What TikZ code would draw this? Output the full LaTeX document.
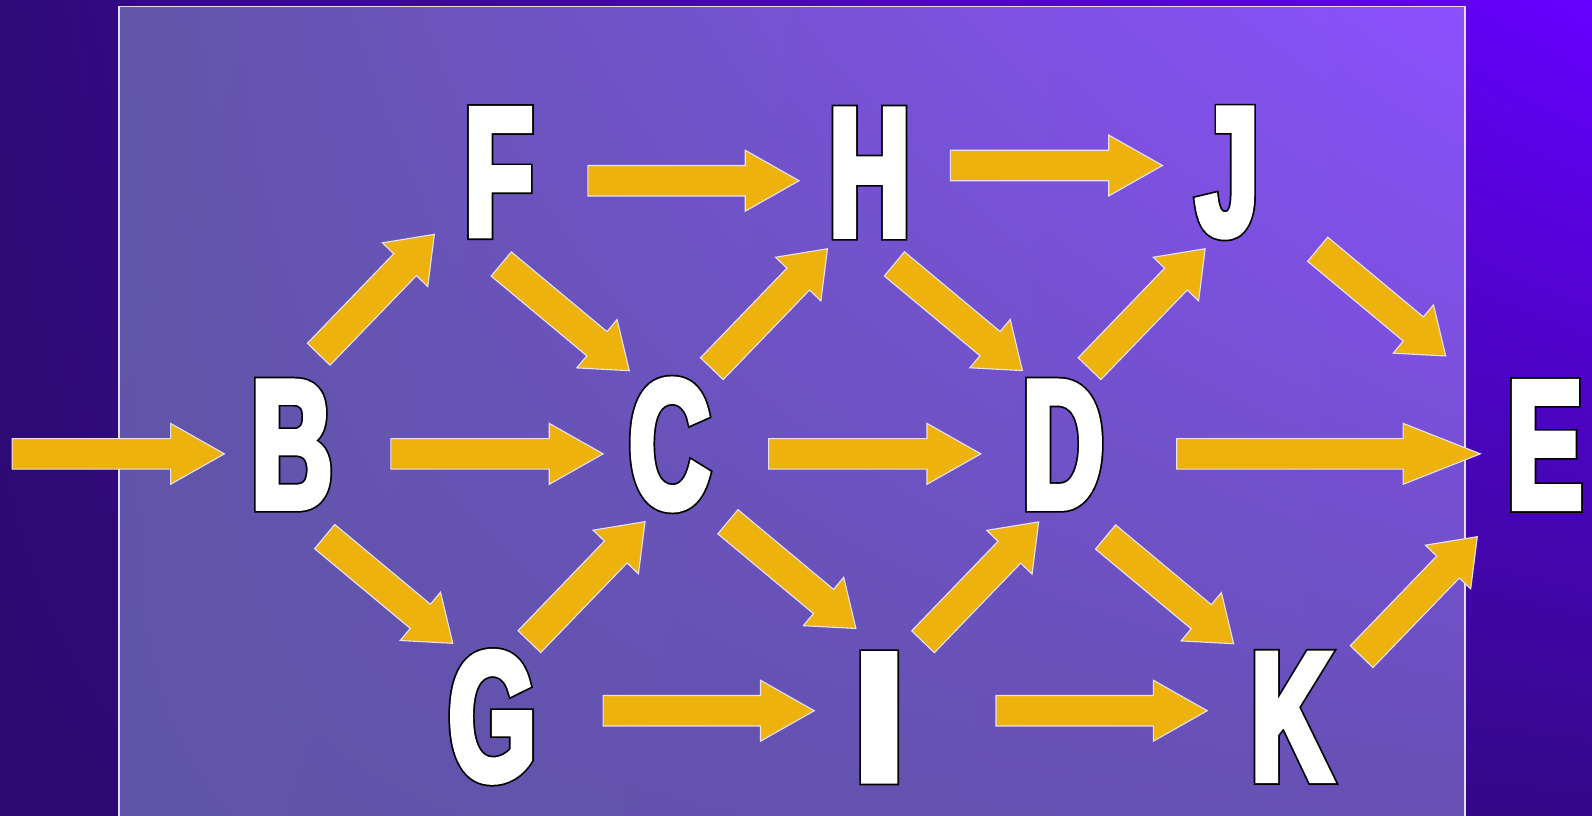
\documentclass[tikz,border=0pt]{standalone}
\usepackage{fontspec}
\usetikzlibrary{calc,shadings}
\newfontfamily\lfaceW[FakeStretch=0.61,FakeBold=3.67]{Liberation Sans Bold}
\newfontfamily\lfaceK[FakeStretch=0.61,FakeBold=5.55]{Liberation Sans Bold}
\newfontfamily\lfaceWi[FakeStretch=1.12,FakeBold=3.67]{Liberation Sans Bold}
\newfontfamily\lfaceKi[FakeStretch=1.12,FakeBold=5.55]{Liberation Sans Bold}
\definecolor{gold}{HTML}{EDB20D}
\definecolor{arrowedge}{HTML}{E6E2F2}
\definecolor{frameedge}{HTML}{E2DEF0}
\definecolor{bgUL}{RGB}{46,10,120}
\definecolor{bgUR}{RGB}{102,0,255}
\definecolor{bgLL}{RGB}{44,10,112}
\definecolor{bgLR}{RGB}{52,8,136}
\definecolor{inUL}{RGB}{97,85,168}
\definecolor{inUR}{RGB}{140,80,255}
\definecolor{inLL}{RGB}{96,84,168}
\definecolor{inLR}{RGB}{102,80,180}
\newcommand\blockarrow[5]{%
  \coordinate (ba-h) at ($(#2)!#5!(#1)$);
  \draw[goldarrow] ($(#1)!#3!90:(#2)$) -- ($(ba-h)!#3!-90:(#1)$) -- ($(ba-h)!#4!-90:(#1)$)
    -- (#2) -- ($(ba-h)!#4!90:(#1)$) -- ($(ba-h)!#3!90:(#1)$) -- ($(#1)!#3!-90:(#2)$) -- cycle;
}
\newcommand\harrow[2]{\blockarrow{#1}{#2}{15pt}{30pt}{53pt}}
\newcommand\darrow[2]{\blockarrow{#1}{#2}{15.5pt}{31pt}{41.5pt}}
\begin{document}
\begin{tikzpicture}[x=1pt,y=-1pt,
  goldarrow/.style={fill=gold,draw=arrowedge,line width=1.1pt,line join=miter},
  letterout/.style={inner sep=0pt,text=black,font=\lfaceK\fontsize{180}{180}\selectfont},
  letterface/.style={inner sep=0pt,text=white,font=\lfaceW\fontsize{180}{180}\selectfont},
  letterouti/.style={inner sep=0pt,text=black,font=\lfaceKi\fontsize{180}{180}\selectfont},
  letterfacei/.style={inner sep=0pt,text=white,font=\lfaceWi\fontsize{180}{180}\selectfont}]
\useasboundingbox (0,0) rectangle (1568,803);
\shade[upper left=bgUL,upper right=bgUR,lower left=bgLL,lower right=bgLR]
  (0,0) rectangle (1568,803);
\shade[upper left=inUL,upper right=inUR,lower left=inLL,lower right=inLR]
  (117.2,6.6) rectangle (1442.9,803);
\draw[frameedge,line width=1.4pt] (117.2,806) -- (117.2,6.6) -- (1442.9,6.6) -- (1442.9,806);

% letters
\foreach \n/\x/\y in {F/491.3/169.6,H/856.5/170,J/1209/170,B/287.5/438,C/659.5/437.8,
  D/1047/438,E/1521.7/438.3,G/484.8/706,K/1272/706}{
  \node[letterout] (\n-o) at (\x,\y) {\n};
  \node[letterface] (\n) at (\x,\y) {\n};
}
\node[letterouti] (I-o) at (866,706.5) {I};
\node[letterfacei] (I) at (866,706.5) {I};

% arrow end points
\coordinate (in-a) at (12,447);   \coordinate (in-b) at (221,447);
\coordinate (BC-a) at (385,447);  \coordinate (BC-b) at (594,447);
\coordinate (CD-a) at (757,447);  \coordinate (CD-b) at (966,447);
\coordinate (DE-a) at (1159,447); \coordinate (DE-b) at (1458,447);
\coordinate (FH-a) at (579,178);  \coordinate (FH-b) at (787,178);
\coordinate (HJ-a) at (936,163);  \coordinate (HJ-b) at (1145,163);
\coordinate (GI-a) at (594,700);  \coordinate (GI-b) at (802,700);
\coordinate (IK-a) at (981,700);  \coordinate (IK-b) at (1189,700);
\coordinate (BF-a) at (313.9,348.9);  \coordinate (BF-b) at (427.8,230.8);
\coordinate (GC-a) at (521.4,631.9);  \coordinate (GC-b) at (635.3,513.8);
\coordinate (CH-a) at (701.1,363.1);  \coordinate (CH-b) at (815,245);
\coordinate (ID-a) at (909.1,632.1);  \coordinate (ID-b) at (1023,514);
\coordinate (DJ-a) at (1073.1,363.1); \coordinate (DJ-b) at (1187,245);
\coordinate (KE-a) at (1341.1,646.7); \coordinate (KE-b) at (1455,528.6);
\coordinate (FC-a) at (493.7,260);    \coordinate (FC-b) at (619.8,365.1);
\coordinate (BG-a) at (319.8,528.5);  \coordinate (BG-b) at (445.9,633.6);
\coordinate (HD-a) at (880.9,259.9);  \coordinate (HD-b) at (1007,365);
\coordinate (CI-a) at (716.9,513.9);  \coordinate (CI-b) at (843,619);
\coordinate (DK-a) at (1088.9,528.9); \coordinate (DK-b) at (1215,634);
\coordinate (JE-a) at (1297.8,245.5); \coordinate (JE-b) at (1423.9,350.6);

\harrow{in-a}{in-b}
\harrow{BC-a}{BC-b}
\harrow{CD-a}{CD-b}
\blockarrow{DE-a}{DE-b}{15pt}{30pt}{76pt}
\harrow{FH-a}{FH-b}
\harrow{HJ-a}{HJ-b}
\harrow{GI-a}{GI-b}
\harrow{IK-a}{IK-b}
\foreach \e in {BF,GC,CH,ID,DJ,KE,FC,BG,HD,CI,DK,JE}{\darrow{\e-a}{\e-b}}
\end{tikzpicture}
\end{document}
